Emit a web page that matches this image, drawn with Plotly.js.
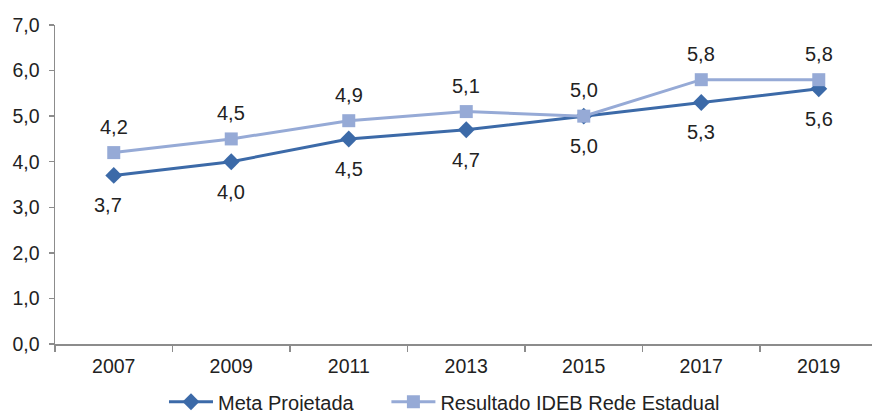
<!DOCTYPE html>
<html>
<head>
<meta charset="utf-8">
<script src="https://cdn.plot.ly/plotly-3.0.1.min.js"></script>
<style>
html,body{margin:0;padding:0;background:#fff;}
#chart{width:872px;height:411px;}
</style>
</head>
<body>
<div id="chart"></div>
<script>
const years = ['2007','2009','2011','2013','2015','2017','2019'];
const metaProjetada = [3.7, 4.0, 4.5, 4.7, 5.0, 5.3, 5.6];
const resultadoIDEB = [4.2, 4.5, 4.9, 5.1, 5.0, 5.8, 5.8];
const seriesNames = ['Meta Projetada', 'Resultado IDEB Rede Estadual'];
const yTicks = [0,1,2,3,4,5,6,7];

const metaColor = '#3C6AA8';
const resColor = '#96AAD6';
const fontFam = '"Liberation Sans", Arial, sans-serif';

function fmt(v){ return v.toFixed(1).replace('.', ','); }

const traces = [
  {
    x: years, y: metaProjetada, name: seriesNames[0] + '\u00a0\u00a0\u00a0\u00a0\u00a0', type: 'scatter', mode: 'lines+markers',
    line: {color: metaColor, width: 3},
    marker: {symbol: 'diamond', size: 13, color: metaColor},
    hoverinfo: 'none'
  },
  {
    x: years, y: resultadoIDEB, name: seriesNames[1], type: 'scatter', mode: 'lines+markers',
    line: {color: resColor, width: 3},
    marker: {symbol: 'square', size: 13, color: resColor},
    hoverinfo: 'none'
  }
];

const annotations = [];
years.forEach((yr, i) => {
  annotations.push({xref: 'x', yref: 'y', x: i, y: metaProjetada[i], text: fmt(metaProjetada[i]), showarrow: false,
    yshift: -30, xshift: i === 0 ? -6 : 0, font: {family: fontFam, size: 20, color: '#222'}});
  annotations.push({xref: 'x', yref: 'y', x: i, y: resultadoIDEB[i], text: fmt(resultadoIDEB[i]), showarrow: false,
    yshift: 26, font: {family: fontFam, size: 20, color: '#222'}});
});

const layout = {
  width: 872, height: 411,
  margin: {l: 55, r: 0, t: 25, b: 67, autoexpand: false},
  paper_bgcolor: '#fff', plot_bgcolor: '#fff',
  separators: ',.',
  font: {family: fontFam, size: 19, color: '#222'},
  showlegend: true,
  legend: {orientation: 'h', x: 0.1334, xanchor: 'left', y: -0.242, yanchor: 'bottom', itemwidth: 44,
    font: {family: fontFam, size: 20, color: '#222'}, traceorder: 'normal'},
  xaxis: {
    type: 'category', range: [-0.5, 6.453], showgrid: false, zeroline: false,
    showline: true, linecolor: '#8c8c8c', linewidth: 1.5,
    ticks: 'outside', tickson: 'boundaries', ticklen: 6, tickcolor: '#8c8c8c', tickwidth: 1.5,
    ticklabelstandoff: 4,
    tickfont: {family: fontFam, size: 19.5, color: '#222'}, fixedrange: true
  },
  yaxis: {
    range: [0, 7], tickvals: yTicks, tickformat: '.1f', showgrid: false, zeroline: false,
    showline: true, linecolor: '#8c8c8c', linewidth: 1.5,
    ticks: 'outside', ticklen: 5, tickcolor: '#8c8c8c', tickwidth: 1.5,
    ticklabelstandoff: 5,
    tickfont: {family: fontFam, size: 19.5, color: '#222'}, fixedrange: true
  },
  annotations: annotations
};

Plotly.newPlot('chart', traces, layout, {displayModeBar: false, staticPlot: true});
</script>
</body>
</html>
